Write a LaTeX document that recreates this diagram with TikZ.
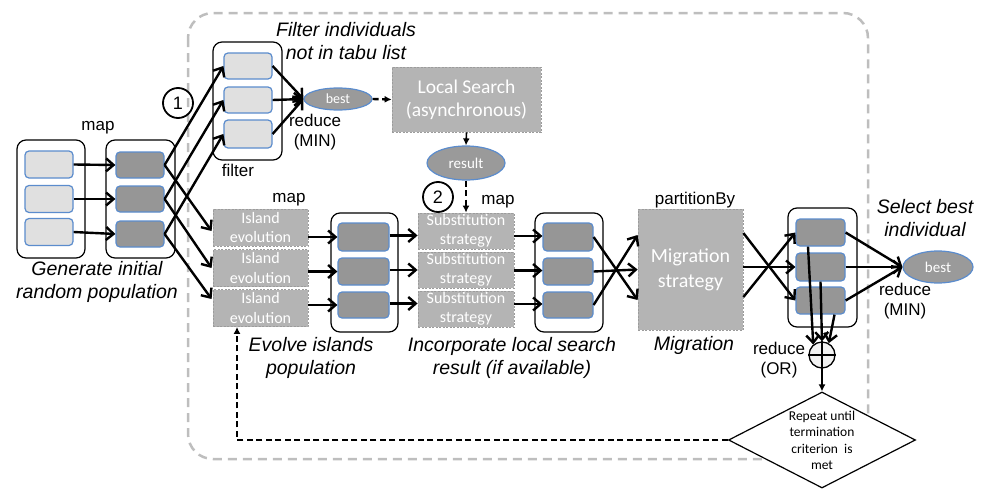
\documentclass[tikz,border=0pt]{standalone}
\usepackage{fontspec}
\setmainfont{Liberation Sans}
\newfontfamily\boxfont{Carlito}
\usetikzlibrary{arrows.meta,shapes.geometric,calc}
\definecolor{lightfill}{HTML}{E0E0E0}
\definecolor{darkfill}{HTML}{969696}
\definecolor{bluec}{HTML}{5B8CCD}
\definecolor{gfill}{HTML}{B4B4B4}
\definecolor{gborder}{HTML}{9C9C9C}
\definecolor{ellfill}{HTML}{9A9A9A}
\definecolor{dashgray}{HTML}{BEBEBE}
\tikzset{
 outerbox/.style={draw=black, fill=white, line width=1.2pt, rounded corners=9pt, inner sep=0pt},
 lbox/.style={draw=bluec, fill=lightfill, line width=1.2pt, rounded corners=4pt, minimum width=48pt, minimum height=27pt, inner sep=0pt},
 dbox/.style={lbox, fill=darkfill},
 gbox/.style={draw=gborder, fill=gfill, dashed, dash pattern=on 2pt off 1.5pt, line width=0.8pt, inner sep=0pt, text=white, font=\boxfont\fontsize{16}{19.5}\selectfont, align=center},
 ell/.style={ellipse, draw=bluec, fill=ellfill, line width=1.2pt, inner sep=0pt, text=white, font=\boxfont\fontsize{14}{16}\selectfont},
 arr/.style={line width=2.4pt, -{Straight Barb[length=7.5pt,width=13pt]}},
 smallarr/.style={line width=1.6pt, -{Latex[length=7pt,width=7pt]}},
 dasharr/.style={line width=2.4pt, dash pattern=on 6pt off 3.5pt, -{Latex[length=7pt,width=7pt]}},
 lab/.style={font=\fontsize{17}{20}\selectfont, align=center, inner sep=0pt},
 ital/.style={font=\itshape\fontsize{19.5}{23}\selectfont, align=center, inner sep=0pt},
 num/.style={circle, draw, line width=1.8pt, minimum size=30pt, inner sep=0pt, font=\fontsize{18}{20}\selectfont},
}
\begin{document}
\begin{tikzpicture}[x=1pt,y=-1pt]
\useasboundingbox (0,0) rectangle (986,490);

% outer dashed region
\draw[dashgray, line width=2.5pt, dash pattern=on 9pt off 6pt, rounded corners=25pt] (188,13) rectangle (868,459);

% group 1: initial population
\node[outerbox, minimum width=68pt, minimum height=118pt] (o1) at (51,199) {};
\node[lbox] (l1) at (49,164.5) {};
\node[lbox] (l2) at (49,199) {};
\node[lbox] (l3) at (49,232) {};
\node[outerbox, minimum width=69pt, minimum height=118pt] (o2) at (140.5,199) {};
\node[dbox, minimum height=26pt] (d1) at (140,165) {};
\node[dbox, minimum height=26pt] (d2) at (140,199) {};
\node[dbox, minimum height=26pt] (d3) at (140,234) {};
\node[lab] (map1) at (98,128) {map};
\node[ital] (gen) at (97,281.5) {Generate initial\\random population};

% filter
\node[outerbox, minimum width=69pt, minimum height=118pt] (of) at (247.5,101) {};
\node[lbox, minimum height=26pt] (f1) at (248,66) {};
\node[lbox, minimum height=26pt] (f2) at (248,100) {};
\node[lbox, minimum height=28pt] (f3) at (248,134) {};
\node[lab] (filt) at (238,170) {filter};
\node[ital] (filtxt) at (346,41.5) {Filter individuals\\not in tabu list};
\node[num] (n1) at (178,103) {1};

% best (filter)
\node[ell, minimum width=68pt, minimum height=22pt] (b1) at (338,99) {best};
\node[lab] (red1) at (315,132) {reduce\\(MIN)};

% local search
\node[gbox, minimum width=149pt, minimum height=65pt, font=\boxfont\fontsize{19.5}{23}\selectfont] (ls) at (466.5,99.5) {Local Search\\(asynchronous)};
\node[ell, minimum width=78pt, minimum height=34pt, font=\boxfont\fontsize{15}{17}\selectfont] (res) at (466,163) {result};
\node[num] (n2) at (438,197) {2};

% islands
\node[gbox, minimum width=95pt, minimum height=37pt] (i1) at (260.5,227.5) {Island\\evolution};
\node[gbox, minimum width=95pt, minimum height=37pt] (i2) at (260.5,268) {Island\\evolution};
\node[gbox, minimum width=95pt, minimum height=37pt] (i3) at (260.5,308) {Island\\evolution};
\node[lab] (map2) at (289,200) {map};
\node[ital] (evo) at (311,357.5) {Evolve islands\\population};

% group 3
\node[outerbox, minimum width=67pt, minimum height=119pt] (o3) at (364.5,272.5) {};
\node[dbox, minimum width=51pt, minimum height=28pt] (e1) at (363.5,237) {};
\node[dbox, minimum width=51pt, minimum height=27pt] (e2) at (363.5,271.5) {};
\node[dbox, minimum width=51pt, minimum height=26pt] (e3) at (363.5,305) {};

% substitution
\node[gbox, minimum width=96pt, minimum height=36pt] (s1) at (466,231) {Substitution\\strategy};
\node[gbox, minimum width=96pt, minimum height=36pt] (s2) at (466,270) {Substitution\\strategy};
\node[gbox, minimum width=96pt, minimum height=36pt] (s3) at (466,309) {Substitution\\strategy};
\node[lab] (map3) at (498,202) {map};
\node[ital] (inc) at (512,357.5) {Incorporate local search\\result (if available)};

% group 4
\node[outerbox, minimum width=68pt, minimum height=119pt] (o4) at (569,272.5) {};
\node[dbox, minimum width=50pt, minimum height=28pt] (g1) at (568,237) {};
\node[dbox, minimum width=50pt, minimum height=27pt] (g2) at (568,271.5) {};
\node[dbox, minimum width=50pt, minimum height=26pt] (g3) at (568,305) {};

% migration
\node[gbox, minimum width=105pt, minimum height=121pt, font=\boxfont\fontsize{20}{25}\selectfont] (mig) at (690.5,269.5) {Migration\\strategy};
\node[lab] (part) at (695,200) {partitionBy};
\node[ital] (migl) at (694,345) {Migration};

% group 5
\node[outerbox, minimum width=69pt, minimum height=119pt] (o5) at (822.5,267.5) {};
\node[dbox, minimum width=49pt, minimum height=27pt] (h1) at (820.5,232.5) {};
\node[dbox, minimum width=49pt, minimum height=28pt] (h2) at (820.5,267) {};
\node[dbox, minimum width=49pt, minimum height=27pt] (h3) at (820.5,300.5) {};

% best final
\node[ell, minimum width=70pt, minimum height=32pt, font=\boxfont\fontsize{15}{17}\selectfont] (b2) at (938,267) {best};
\node[ital] (sel) at (925,218) {Select best\\individual};
\node[lab] (red2) at (905,301) {reduce\\(MIN)};

% OR
\node[circle, draw, fill=black!5, line width=1.3pt, minimum size=26pt, inner sep=0pt] (orc) at (822,355) {};
\draw[line width=1.1pt] (orc.north) -- (orc.south) (orc.west) -- (orc.east);
\node[lab] (red3) at (779,360) {reduce\\(OR)};

% diamond
\node[diamond, draw, fill=white, line width=1.2pt, aspect=1.95, minimum width=187pt, minimum height=96pt, inner sep=0pt] (dia) at (822,440) {};
\node[font=\boxfont\fontsize{13.5}{16.5}\selectfont, align=center, inner sep=0pt] (diat) at (822,440.5) {Repeat until\\termination\\criterion\ \ is\\met};

% ---- connectors ----
\foreach \a/\b in {l1/d1,l2/d2,l3/d3} \draw[arr] (\a.east) -- (\b.west);
\draw[arr] (d1.east) -- (f1.west);
\draw[arr] (d2.east) -- (f2.west);
\draw[arr] (d3.east) -- (f3.west);
\draw[arr] (d1.east) -- ($(i1.west)+(-1,3.5)$);
\draw[arr] (d2.east) -- ($(i2.west)+(-1,0)$);
\draw[arr] (d3.east) -- ($(i3.west)+(-1,-9)$);
\foreach \a in {f1,f2,f3} \draw[arr] (\a.east) -- (b1.west);
\draw[dasharr] (b1.east) -- (ls.west);
\draw[smallarr] (ls.south) -- (res.north);
\draw[dasharr] (res.south) -- (s1.north);
\foreach \a/\b in {i1/e1,i2/e2,i3/e3} \draw[arr] (\a.east |- \b.west) -- (\b.west);
\foreach \a/\b in {e1/s1,e2/s2,e3/s3} \draw[arr] ($(\a.east)+(0,-1.5)$) -- ($(\b.west |- \a.east)+(0,-1.5)$);
\foreach \a/\b in {s1/g1,s2/g2,s3/g3} \draw[arr] ($(\a.east |- \b.west)+(0,-1)$) -- ($(\b.west)+(0,-1)$);
\draw[arr] (g1.east) -- ($(mig.west)+(0,30.5)$);
\draw[arr] (g2.east) -- (mig.west);
\draw[arr] (g3.east) -- ($(mig.west)+(0,-34.5)$);
\draw[arr] ($(mig.east)+(0,-36.5)$) -- (h3.west);
\draw[arr] ($(mig.east)+(0,-2.5)$) -- (h2.west);
\draw[arr] ($(mig.east)+(0,27.5)$) -- (h1.west);
\foreach \a in {h1,h2,h3} \draw[arr] (\a.east) -- (b2.west);
\draw[arr] ($(h1.south)+(-12.5,0)$) -- (orc.130);
\draw[arr] (h2.south) -- (orc.north);
\draw[arr] ($(h3.south)+(14,0)$) -- (orc.60);
\draw[smallarr] (orc.south) -- (dia.north);
\coordinate (ret) at (237,440);
\draw[dasharr] (dia.west) -- (ret) -- (ret |- i3.south);
\end{tikzpicture}
\end{document}
